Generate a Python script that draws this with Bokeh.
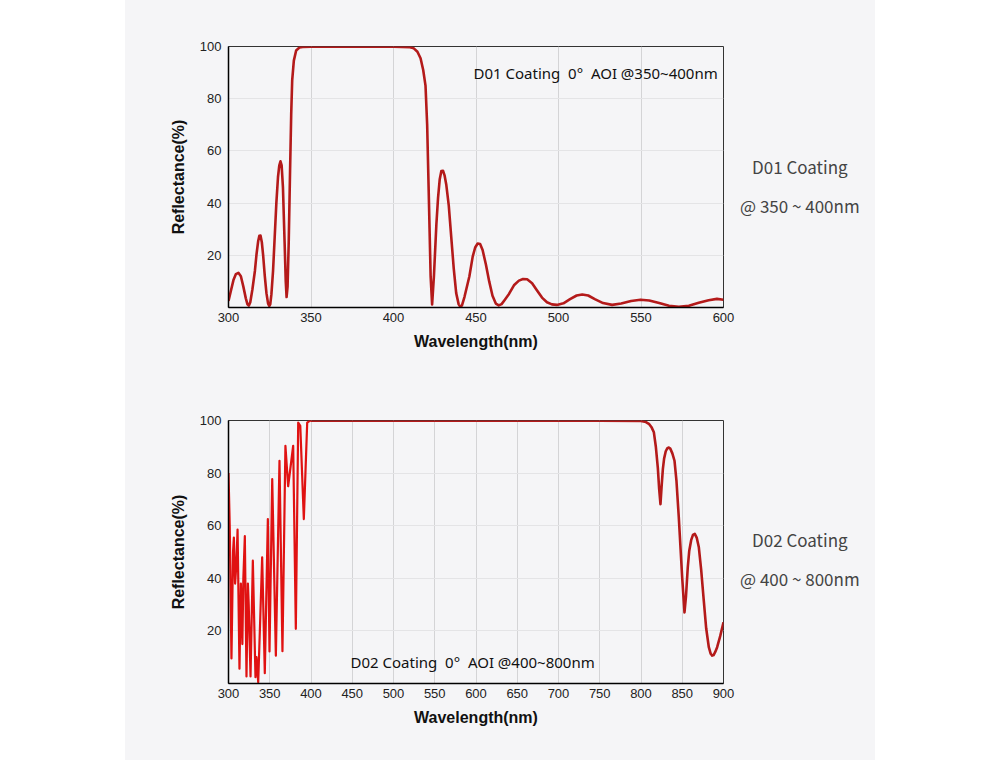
from bokeh.plotting import figure
from bokeh.models import Label, Spacer, FixedTicker, Div
from bokeh.layouts import row, column
from bokeh.embed import file_html
from bokeh.resources import INLINE

# ---------------- data ----------------
d01_wl = [300, 301.5, 303, 304.5, 306, 307.5, 309, 310.5, 311.5, 312.3, 313.2, 314.5, 316, 317, 318,
          318.7, 319.4, 320.2, 321, 322, 323, 324, 324.7, 325.3, 326, 327, 328, 329, 330, 330.8,
          331.5, 332.2, 333, 334, 334.7, 335.2, 335.8, 336.5, 337.3, 338, 338.6, 339.6, 341, 343,
          345, 350, 360, 380, 400, 410, 412.3, 414.5, 416.4, 418, 419.4, 420.4, 421.5, 422.5,
          423.4, 424.5, 426, 427, 428, 429, 430, 431, 432, 433.5, 435, 436.5, 438, 439.5, 440.6,
          441.5, 443, 446, 448, 449.5, 451, 452.5, 454, 456, 458, 460, 462, 463.8, 465.5, 467.5,
          470, 473, 476, 478.5, 481, 484, 487, 490, 493, 496, 499, 503, 507, 511, 514.4, 518, 522,
          527, 532.5, 538, 544, 549.7, 555, 561, 567, 572.9, 579, 585, 591, 596, 600]
d01_r = [2.5, 6.5, 10.5, 12.8, 13.3, 12, 8, 3.5, 1.2, 0.7, 2, 7, 14, 20.5, 25.5,
         27.5, 27.6, 25, 20, 12, 5.5, 1.5, 0.6, 1.2, 5, 14, 27, 40, 50, 54.5,
         56, 54.5, 46, 25, 10, 4, 8, 25, 52, 74, 87, 94.6, 98.5, 99.6,
         99.8, 99.9, 99.9, 99.9, 99.9, 99.7, 99.3, 98, 95.5, 91, 85, 70, 40, 12,
         1.2, 12, 32, 42, 49, 52.3, 52.4, 50.5, 47, 39, 27, 15, 5.5, 1.2, 0.2,
         0.8, 4, 12, 19.5, 23, 24.5, 24.3, 22, 16.5, 10, 4.5, 1.5, 0.8, 1.3, 3,
         5.2, 8.5, 10.3, 10.9, 10.8, 9.3, 6.5, 3.8, 2, 1.2, 1.0, 1.6, 3.2, 4.6, 5.0, 4.6, 3.2,
         1.7, 1.0, 1.5, 2.5, 3.0, 2.7, 1.7, 0.7, 0.3, 0.7, 1.8, 2.8, 3.3, 3.0]

d02_noisy_wl = [300, 301.5, 303.6, 305.5, 306.5, 308, 309.5, 311, 313.3, 315, 316.8, 318, 319.8,
                321.8, 323.5, 324.5, 326.7, 329.5, 332.7, 334, 336, 338.5, 340.8, 344, 347.7,
                349.7, 353, 357.4, 361.8, 365.4, 369, 372.3, 378.4, 381.6, 384.5, 387, 391.3,
                395.4, 398, 400]
d02_noisy_r = [80, 60, 9.5, 50, 55.5, 38, 45, 58.5, 5.6, 38, 15, 40, 56,
               2.7, 38, 30, 2.7, 46.7, 2.4, 10, 0.5, 25, 48, 3.9, 62.5,
               12.2, 77.7, 10.6, 84.7, 12.3, 90.4, 75, 90.4, 20.8, 99.2, 98, 62.5,
               99.2, 99.8, 99.9]

d02_wl = [400, 450, 500, 550, 600, 650, 700, 750, 800, 806, 810, 813, 815.6, 818, 820.4, 822, 823.6,
          825, 826.5, 828, 830, 832, 833.7, 835.5, 838, 840.6, 843, 845.8, 849.9, 852.7, 854.5,
          856.7, 858.5, 860.8, 863, 865.2, 867.5, 870.1, 873, 876.1, 879, 882.2, 884.5, 886.3,
          888, 890, 892.3, 896, 900]
d02_r = [99.9, 99.9, 99.9, 99.9, 99.9, 99.9, 99.9, 99.9, 99.8, 99.4, 98.6, 97.3, 95.5, 90, 82, 74, 68.2,
         75, 81.5, 85.5, 88.3, 89.5, 89.7, 89.3, 87.5, 84.7, 77, 63.2, 40.4, 27, 33,
         44.2, 50.5, 54.5, 56.5, 56.9, 55.5, 51.8, 43, 31.5, 21, 13.8, 11.3, 10.6,
         10.8, 12, 13.8, 18, 23.3]

x1_ticks = [300, 350, 400, 450, 500, 550, 600]
x2_ticks = [300, 350, 400, 450, 500, 550, 600, 650, 700, 750, 800, 850, 900]
y_ticks = [20, 40, 60, 80, 100]

BG = "#f5f5f7"
TICK_FONT = "Liberation Sans"
NB = "\u00a0"


def make_fig(xr, xticks, fh, top, bottom):
    p = figure(x_range=xr, y_range=(0, 100), frame_width=495, frame_height=fh,
               min_border_left=103, min_border_right=20, min_border_top=top,
               min_border_bottom=bottom, output_backend="svg", toolbar_location=None)
    p.background_fill_color = BG
    p.border_fill_color = BG
    p.outline_line_color = "#333333"
    p.outline_line_width = 1
    p.xaxis.ticker = FixedTicker(ticks=xticks)
    p.yaxis.ticker = FixedTicker(ticks=y_ticks)
    for ax in (p.xaxis, p.yaxis):
        ax.axis_line_color = "black"
        ax.axis_line_width = 1.5
        ax.major_tick_out = 0
        ax.major_tick_in = 0
        ax.minor_tick_out = 0
        ax.minor_tick_in = 0
        ax.major_label_text_font = TICK_FONT
        ax.major_label_text_font_size = "13px"
        ax.major_label_text_color = "#222222"
        ax.axis_label_text_font = TICK_FONT
        ax.axis_label_text_font_style = "bold"
        ax.axis_label_text_font_size = "16px"
        ax.axis_label_text_color = "#111111"
    p.xaxis.major_label_standoff = 5
    p.yaxis.major_label_standoff = 7
    p.xaxis.axis_label = "Wavelength(nm)"
    p.yaxis.axis_label = "Reflectance(%)"
    p.xaxis.axis_label_standoff = 8
    p.yaxis.axis_label_standoff = 10
    p.xgrid.grid_line_color = "#d4d4d6"
    p.ygrid.grid_line_color = "#e4e4e6"
    p.xgrid.grid_line_width = 1
    p.ygrid.grid_line_width = 1
    return p


def side_div(line1, line2, pad_top):
    html = ('<div style="padding-top:%dpx;position:relative;left:-3px;text-align:center;'
            'white-space:nowrap;'
            'font-family:\'Noto Sans CJK SC\',\'Noto Sans\',sans-serif;font-size:17px;'
            'line-height:39px;color:#444444;">%s<br>%s</div>' % (pad_top, line1, line2))
    return Div(text=html, width=132, height=380, margin=0,
               styles={"background-color": BG})


# ---------------- top chart ----------------
p1 = make_fig((300, 600), x1_ticks, 261, 46, 73)
p1.line(d01_wl, d01_r, line_color="#b41a1a", line_width=2.6, line_join="round")
p1.add_layout(Label(x=448.5, y=90,
                    text="D01 Coating" + NB + " 0°" + NB + " AOI @350~400nm",
                    text_font="Noto Sans", text_font_size="15px", text_color="#111111",
                    text_baseline="middle", text_align="left"))

# ---------------- bottom chart ----------------
p2 = make_fig((300, 900), x2_ticks, 263, 40, 77)
p2.line(d02_wl, d02_r, line_color="#b41a1a", line_width=2.6, line_join="round")
p2.line(d02_noisy_wl, d02_noisy_r, line_color="#e01212", line_width=2.2, line_join="round")
p2.add_layout(Label(x=447.9, y=8,
                    text="D02 Coating" + NB + " 0°" + NB + " AOI @400~800nm",
                    text_font="Noto Sans", text_font_size="15px", text_color="#111111",
                    text_baseline="middle", text_align="left"))

d1 = side_div("D01 Coating", "@ 350 ~ 400nm", 147)
d2 = side_div("D02 Coating", "@ 400 ~ 800nm", 140)

layout = row(Spacer(width=125, height=760),
             column(p1, p2, spacing=0, styles={"background-color": BG}),
             column(d1, d2, spacing=0, styles={"background-color": BG}),
             spacing=0)

open("out.html", "w").write(file_html(layout, INLINE))
